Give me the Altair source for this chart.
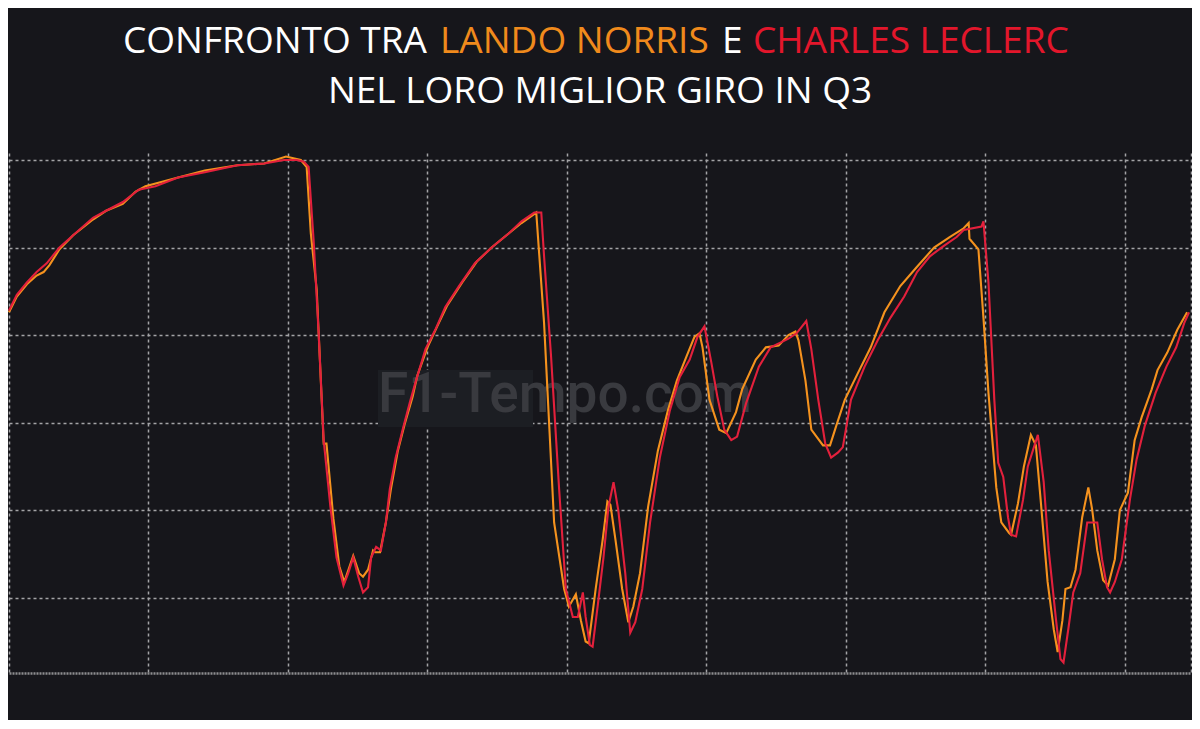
import altair as alt
import pandas as pd

# ---- data (distance in m, speed in km/h) ----
norris_dist = [
    0, 28, 64, 99, 124, 145, 181, 230, 301, 348,
    408, 454, 489, 606, 702, 819, 915, 993, 1046, 1067,
    1082, 1103, 1128, 1138, 1163, 1184, 1202, 1234, 1255, 1269,
    1287, 1305, 1312, 1330, 1351, 1369, 1394, 1418, 1447, 1464,
    1500, 1535, 1571, 1624, 1677, 1730, 1791, 1837, 1890, 1918,
    1954, 1990, 2007, 2032, 2050, 2067, 2078, 2103, 2128, 2145,
    2156, 2174, 2198, 2220, 2238, 2262, 2291, 2326, 2362, 2394,
    2429, 2457, 2475, 2486, 2511, 2546, 2571, 2606, 2628, 2677,
    2713, 2759, 2794, 2819, 2830, 2855, 2876, 2918, 2943, 2965,
    2996, 3042, 3089, 3138, 3195, 3255, 3316, 3372, 3422, 3440,
    3443, 3475, 3493, 3511, 3528, 3539, 3557, 3585, 3592, 3617,
    3638, 3663, 3681, 3698, 3723, 3745, 3759, 3776, 3787, 3805,
    3823, 3847, 3869, 3883, 3901, 3922, 3940, 3964, 3982, 4011,
    4035, 4060, 4096, 4117, 4152, 4188, 4223,
]
norris_speed = [
    263, 272, 279, 284, 286, 290, 299, 307, 316, 321,
    325, 332, 335, 340, 344, 347, 348, 352, 350, 346,
    308, 276, 188, 188, 145, 118, 109, 124, 114, 112,
    116, 127, 126, 126, 143, 162, 184, 199, 215, 227,
    243, 255, 267, 280, 292, 300, 308, 314, 320, 257,
    143, 105, 95, 102, 87, 75, 74, 105, 133, 155,
    153, 133, 105, 86, 95, 114, 152, 184, 207, 224,
    238, 249, 251, 243, 213, 196, 194, 206, 219, 236,
    243, 244, 250, 252, 247, 224, 196, 187, 187, 198,
    213, 228, 243, 263, 278, 289, 300, 306, 311, 314,
    305, 299, 260, 217, 184, 163, 143, 137, 136, 154,
    175, 193, 187, 156, 109, 82, 69, 87, 105, 106,
    116, 146, 163, 150, 127, 110, 107, 122, 150, 160,
    190, 203, 219, 230, 240, 253, 263,
]
leclerc_dist = [
    0, 28, 64, 99, 135, 181, 230, 301, 348, 408,
    465, 525, 606, 702, 819, 915, 986, 1032, 1057, 1074,
    1092, 1110, 1128, 1152, 1174, 1199, 1216, 1234, 1252, 1269,
    1287, 1298, 1316, 1333, 1351, 1365, 1386, 1411, 1436, 1457,
    1493, 1528, 1564, 1613, 1670, 1730, 1791, 1837, 1883, 1908,
    1918, 1943, 1972, 1996, 2021, 2039, 2057, 2067, 2082, 2092,
    2110, 2131, 2149, 2167, 2184, 2209, 2227, 2245, 2270, 2298,
    2333, 2369, 2404, 2440, 2468, 2493, 2518, 2539, 2564, 2589,
    2610, 2642, 2688, 2730, 2769, 2794, 2823, 2858, 2876, 2901,
    2926, 2947, 2972, 2989, 3018, 3067, 3114, 3160, 3209, 3255,
    3301, 3351, 3397, 3422, 3486, 3493, 3511, 3532, 3546, 3564,
    3581, 3592, 3610, 3635, 3652, 3688, 3709, 3727, 3752, 3769,
    3780, 3798, 3815, 3840, 3865, 3901, 3918, 3936, 3947, 3964,
    3989, 4018, 4042, 4071, 4110, 4149, 4184, 4213, 4230,
]
leclerc_speed = [
    264, 273, 280, 286, 291, 300, 307, 317, 321, 326,
    333, 335, 340, 343, 347, 348, 350, 350, 349, 346,
    304, 251, 190, 152, 123, 107, 114, 123, 112, 103,
    106, 123, 129, 127, 143, 162, 180, 196, 211, 223,
    242, 253, 266, 278, 291, 300, 308, 315, 320, 320,
    295, 238, 162, 105, 89, 89, 103, 89, 73, 72,
    95, 123, 152, 166, 150, 114, 80, 86, 105, 143,
    180, 207, 226, 236, 249, 255, 234, 215, 196, 190,
    192, 211, 232, 243, 246, 248, 251, 258, 242, 213,
    188, 180, 183, 186, 213, 232, 247, 260, 272, 286,
    295, 301, 306, 310, 312, 315, 280, 213, 177, 169,
    146, 136, 135, 156, 175, 193, 166, 127, 89, 65,
    63, 83, 103, 114, 143, 143, 122, 106, 103, 109,
    122, 156, 179, 198, 217, 232, 243, 257, 263,
]

x_ticks = [0, 500, 1000, 1500, 2000, 2500, 3000, 3500, 4000, 4237]
y_ticks = [100, 150, 200, 250, 300, 350]

title_line1 = ["CONFRONTO TRA", "LANDO NORRIS", "E", "CHARLES LECLERC"]
title_line2 = "NEL LORO MIGLIOR GIRO IN Q3"
watermark = "F1-Tempo.com"

BG = "#16161b"
ORANGE = "#f5921e"
RED = "#e3203c"
T_ORANGE = "#f08a1c"
T_RED = "#e3162b"
GRID = "#a3a3a6"

norris = pd.DataFrame({"dist": norris_dist, "speed": norris_speed})
leclerc = pd.DataFrame({"dist": leclerc_dist, "speed": leclerc_speed})

xscale = alt.Scale(domain=[0, 4237], nice=False, zero=False)
yscale = alt.Scale(domain=[57, 354], nice=False, zero=False)

xaxis = alt.Axis(values=x_ticks, labels=False, ticks=False, title=None,
                 grid=True, gridColor=GRID, gridDash=[3, 3], gridWidth=1.5,
                 domain=True, domainColor="#8c8c8f", domainDash=[2, 1], domainWidth=2.5)
yaxis = alt.Axis(values=y_ticks, labels=False, ticks=False, title=None,
                 grid=True, gridColor=GRID, gridDash=[3, 3], gridWidth=1.5,
                 domain=False)

base_n = alt.Chart(norris).mark_line(color=ORANGE, strokeWidth=2.1).encode(
    x=alt.X("dist:Q", scale=xscale, axis=xaxis),
    y=alt.Y("speed:Q", scale=yscale, axis=yaxis),
)
base_l = alt.Chart(leclerc).mark_line(color=RED, strokeWidth=2.1).encode(
    x=alt.X("dist:Q", scale=xscale, axis=xaxis),
    y=alt.Y("speed:Q", scale=yscale, axis=yaxis),
)

wm_box = alt.Chart(pd.DataFrame({"t": [watermark]})).mark_rect(
    color="#1c1e23").encode(
    x=alt.value(369), x2=alt.value(524), y=alt.value(217), y2=alt.value(274))
wm_text = alt.Chart(pd.DataFrame({"t": [watermark]})).mark_text(
    font="Roboto", fontSize=55, fontWeight=500, color="#393a3f",
    align="left", baseline="alphabetic").encode(
    text="t:N", x=alt.value(369), y=alt.value(259))


def title_part(txt, xpos, ypos, color, align="left"):
    return alt.Chart(pd.DataFrame({"t": [txt]})).mark_text(
        font="Open Sans", fontSize=37, color=color, align=align,
        baseline="alphabetic").encode(text="t:N", x=alt.value(xpos), y=alt.value(ypos))


t1 = title_part(title_line1[0], 114, -100, "#ffffff")
t2 = title_part(title_line1[1], 431, -100, T_ORANGE)
t3 = title_part(title_line1[2], 713, -100, "#ffffff")
t4 = title_part(title_line1[3], 744, -100, T_RED)
t5 = title_part(title_line2, 591, -50, "#ffffff", align="center")

chart = alt.layer(wm_box, wm_text, base_n, base_l, t1, t2, t3, t4, t5).properties(
    width=1182, height=520,
    background=BG,
    autosize=alt.AutoSizeParams(type="none"),
    padding={"left": 1, "right": 1, "top": 145, "bottom": 47},
).configure_view(stroke=None)

chart.save("out.html", embed_options={"renderer": "svg", "actions": False})
